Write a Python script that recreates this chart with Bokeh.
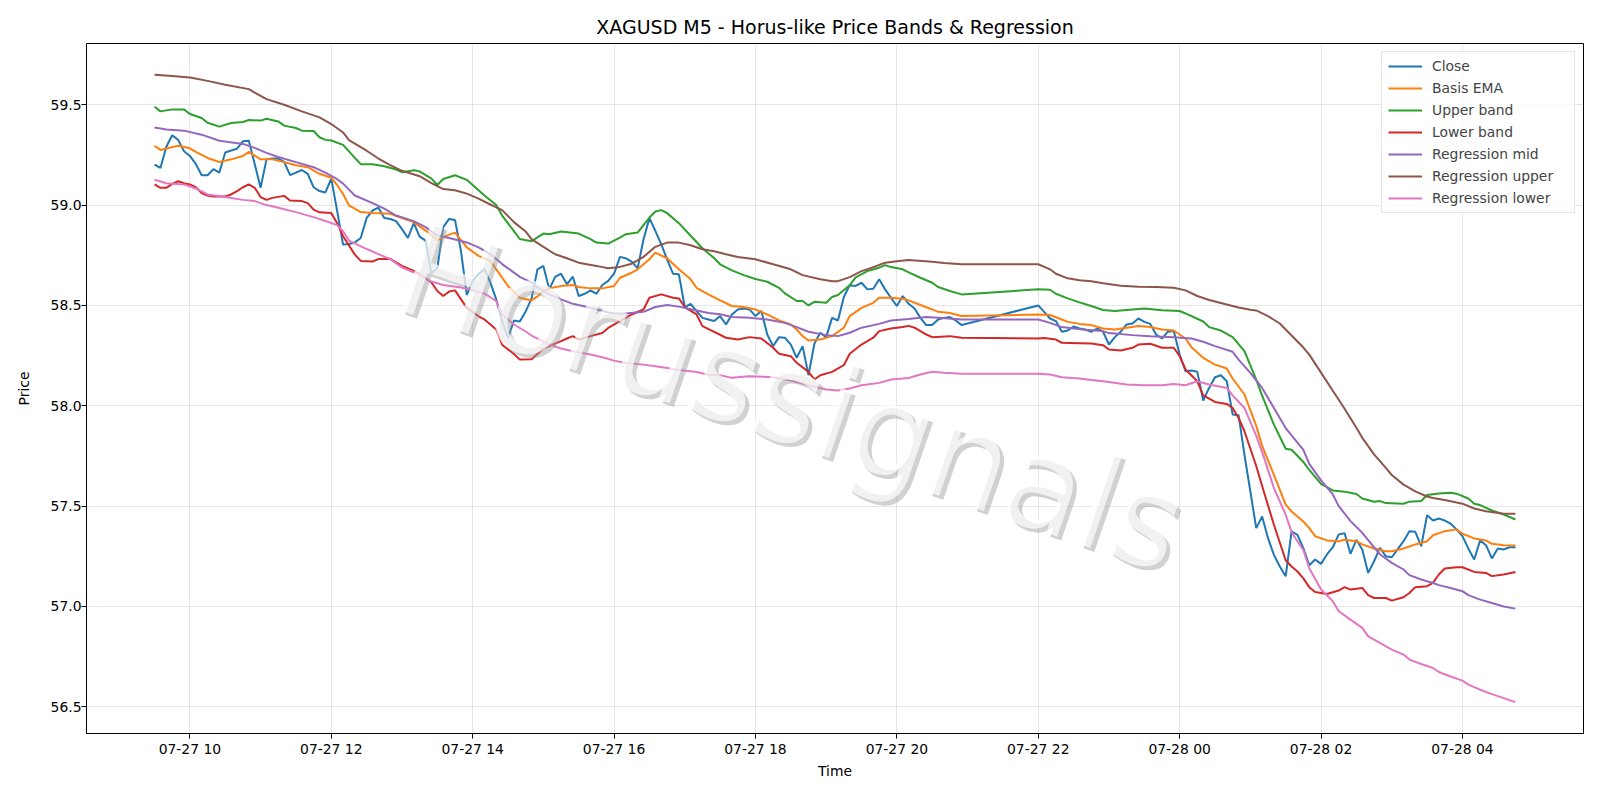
import pandas as pd
from bokeh.plotting import figure
from bokeh.models import (Range1d, FixedTicker, DatetimeTickFormatter, NumeralTickFormatter,
                          Legend, LegendItem, Label)
from bokeh.embed import file_html
from bokeh.resources import INLINE

TITLE = "XAGUSD M5 - Horus-like Price Bands & Regression"
WATERMARK = "Horussignals"
x_tick_labels = ["07-27 10", "07-27 12", "07-27 14", "07-27 16", "07-27 18",
                 "07-27 20", "07-27 22", "07-28 00", "07-28 02", "07-28 04"]
y_ticks = [56.5, 57.0, 57.5, 58.0, 58.5, 59.0, 59.5]

close_t = ["09:30","09:35","09:40","09:45","09:50","09:55","10:00","10:05","10:10","10:15","10:20","10:25",
           "10:30","10:35","10:40","10:45","10:50","10:55","11:00","11:05","11:10","11:15","11:20","11:25",
           "11:30","11:35","11:40","11:45","11:50","11:55","12:00","12:05","12:10","12:15","12:20","12:25",
           "12:30","12:35","12:40","12:45","12:50","12:55","13:00","13:05","13:10","13:15","13:20","13:25",
           "13:30","13:35","13:40","13:45","13:50","13:55","14:00","14:05","14:10","14:15","14:20","14:25",
           "14:30","14:35","14:40","14:45","14:50","14:55","15:00","15:05","15:10","15:15","15:20","15:25",
           "15:30","15:35","15:40","15:45","15:50","15:55","16:00","16:05","16:10","16:15","16:20","16:25",
           "16:30","16:35","16:40","16:45","16:50","16:55","17:00","17:05","17:10","17:15","17:20","17:25",
           "17:30","17:35","17:40","17:45","17:50","17:55","18:00","18:05","18:10","18:15","18:20","18:25",
           "18:30","18:35","18:40","18:45","18:50","18:55","19:00","19:05","19:10","19:15","19:20","19:25",
           "19:30","19:35","19:40","19:45","19:50","19:55","20:00","20:05","20:10","20:15","20:20","20:25",
           "20:30","20:35","20:40","20:45","20:50","20:55",
           "22:00","22:05","22:10","22:15","22:20","22:25","22:30","22:35","22:40","22:45","22:50","22:55",
           "23:00","23:05","23:10","23:15","23:20","23:25","23:30","23:35","23:40","23:45","23:50","23:55",
           "00:00","00:05","00:10","00:15","00:20","00:25","00:30","00:35","00:40","00:45","00:50","00:55",
           "01:00","01:05","01:10","01:15","01:20","01:25","01:30","01:35","01:40","01:45","01:50","01:55",
           "02:00","02:05","02:10","02:15","02:20","02:25","02:30","02:35","02:40","02:45","02:50","02:55",
           "03:00","03:05","03:10","03:15","03:20","03:25","03:30","03:35","03:40","03:45","03:50","03:55",
           "04:00","04:05","04:10","04:15","04:20","04:25","04:30","04:35","04:40","04:45"]
close_v = [59.202,59.185,59.291,59.348,59.325,59.268,59.245,59.205,59.149,59.149,59.179,59.162,
           59.262,59.272,59.281,59.318,59.321,59.205,59.086,59.228,59.232,59.232,59.215,59.149,
           59.162,59.175,59.156,59.089,59.070,59.063,59.132,58.970,58.803,58.806,58.814,58.836,
           58.936,58.973,58.987,58.936,58.931,58.920,58.880,58.836,58.910,58.843,58.823,58.659,
           58.686,58.890,58.931,58.926,58.773,58.552,58.622,58.656,58.682,58.614,58.530,58.421,
           58.338,58.425,58.420,58.470,58.535,58.680,58.697,58.580,58.642,58.658,58.605,58.643,
           58.547,58.558,58.575,58.558,58.602,58.622,58.658,58.742,58.735,58.718,58.685,58.830,
           58.935,58.872,58.805,58.730,58.658,58.655,58.492,58.508,58.472,58.438,58.430,58.422,
           58.447,58.405,58.455,58.480,58.485,58.480,58.447,58.472,58.355,58.297,58.342,58.339,
           58.305,58.239,58.297,58.152,58.309,58.364,58.342,58.438,58.425,58.542,58.601,58.597,
           58.613,58.580,58.583,58.630,58.580,58.538,58.497,58.547,58.508,58.485,58.438,58.402,
           58.402,58.430,58.438,58.442,58.425,58.402,
           58.500,58.468,58.435,58.422,58.369,58.375,58.395,58.385,58.380,58.368,58.385,58.369,
           58.305,58.342,58.369,58.405,58.410,58.435,58.418,58.408,58.355,58.335,58.369,58.372,
           58.255,58.172,58.176,58.169,58.026,58.089,58.142,58.152,58.122,57.956,57.953,57.756,
           57.573,57.390,57.448,57.340,57.257,57.199,57.150,57.374,57.357,57.290,57.205,57.234,
           57.212,57.259,57.295,57.359,57.365,57.262,57.332,57.284,57.167,57.225,57.292,57.250,
           57.245,57.284,57.325,57.375,57.372,57.300,57.455,57.428,57.438,57.428,57.412,57.384,
           57.350,57.289,57.234,57.329,57.305,57.239,57.289,57.284,57.295,57.295]

basis_t = ["09:30","09:35","09:40","09:50","10:00","10:05","10:15","10:25","10:35","10:45","10:50","11:00",
           "11:10","11:20","11:30","11:40","11:50","12:00","12:05","12:10","12:15","12:25","12:35","12:50",
           "13:00","13:10","13:20","13:30","13:40","13:45","13:55","14:05","14:15","14:20","14:30","14:40",
           "14:50","14:55","15:00","15:05","15:15","15:25","15:30","15:40","15:50","16:00","16:05","16:15",
           "16:20","16:30","16:35","16:45","16:55","17:05","17:10","17:20","17:30","17:40","17:50","18:00",
           "18:10","18:20","18:30","18:35","18:40","18:45","18:55","19:05","19:15","19:20","19:30","19:40",
           "19:45","19:55","20:05","20:10","20:20","20:30","20:35","20:45","20:55","22:00","22:10","22:20",
           "22:25","22:35","22:45","22:55","23:05","23:15","23:25","23:35","23:45","23:55","00:05","00:10",
           "00:20","00:30","00:40","00:45","00:55","01:05","01:10","01:20","01:30","01:35","01:45","01:50",
           "01:55","02:05","02:15","02:20","02:30","02:35","02:45","02:55","03:00","03:10","03:20","03:30",
           "03:35","03:45","03:55","04:00","04:10","04:20","04:25","04:35","04:45"]
basis_v = [59.295,59.275,59.282,59.296,59.283,59.265,59.235,59.215,59.228,59.245,59.265,59.228,
           59.228,59.214,59.199,59.189,59.156,59.136,59.100,59.055,58.998,58.965,58.960,58.957,
           58.936,58.915,58.873,58.826,58.853,58.863,58.789,58.747,58.722,58.680,58.597,58.538,
           58.525,58.545,58.572,58.585,58.597,58.602,58.592,58.585,58.585,58.597,58.638,58.663,
           58.680,58.730,58.763,58.735,58.680,58.630,58.588,58.555,58.525,58.497,58.492,58.480,
           58.455,58.425,58.405,58.380,58.347,58.325,58.330,58.347,58.389,58.447,58.488,58.513,
           58.538,58.538,58.533,58.525,58.502,58.480,58.468,58.462,58.447,58.455,58.452,58.430,
           58.418,58.408,58.402,58.385,58.380,58.389,58.397,58.392,58.380,58.375,58.335,58.292,
           58.239,58.205,58.186,58.136,58.056,57.900,57.800,57.656,57.507,57.473,57.423,57.390,
           57.350,57.329,57.325,57.332,57.325,57.309,57.289,57.275,57.275,57.289,57.309,57.325,
           57.355,57.375,57.384,57.362,57.339,57.329,57.312,57.305,57.304]

upper_t = ["09:30","09:35","09:45","09:55","10:00","10:10","10:15","10:25","10:35","10:45","10:50","11:00",
           "11:05","11:15","11:20","11:30","11:35","11:45","11:50","11:55","12:00","12:10","12:20","12:25",
           "12:35","12:45","12:55","13:00","13:10","13:15","13:25","13:30","13:35","13:45","13:55","14:05",
           "14:10","14:20","14:25","14:35","14:40","14:50","15:00","15:05","15:15","15:30","15:40","15:45",
           "15:55","16:05","16:10","16:20","16:30","16:35","16:40","16:45","16:55","17:05","17:15","17:25",
           "17:30","17:40","17:50","18:00","18:10","18:20","18:25","18:35","18:40","18:45","18:50","19:00",
           "19:05","19:10","19:20","19:25","19:35","19:45","19:50","19:55","20:05","20:10","20:20","20:30",
           "20:35","20:45","20:55","22:00","22:10","22:15","22:25","22:35","22:45","22:55","23:05","23:20",
           "23:30","23:45","00:00","00:05","00:20","00:25","00:35","00:45","00:55","01:05","01:10","01:20",
           "01:30","01:35","01:45","01:50","02:00","02:10","02:20","02:30","02:35","02:45","02:50","02:55",
           "03:10","03:15","03:25","03:30","03:40","03:50","03:55","04:05","04:10","04:15","04:25","04:35",
           "04:45"]
upper_v = [59.490,59.467,59.477,59.477,59.454,59.434,59.410,59.391,59.409,59.414,59.424,59.421,
           59.430,59.417,59.396,59.384,59.371,59.369,59.338,59.325,59.322,59.300,59.235,59.204,
           59.204,59.194,59.177,59.164,59.174,59.168,59.132,59.100,59.130,59.149,59.126,59.074,
           59.048,59.000,58.948,58.870,58.831,58.820,58.858,58.855,58.868,58.858,58.830,58.813,
           58.808,58.838,58.855,58.863,58.938,58.968,58.975,58.960,58.910,58.847,58.785,58.735,
           58.705,58.675,58.651,58.632,58.618,58.588,58.560,58.522,58.522,58.500,58.518,58.513,
           58.542,58.552,58.601,58.640,58.671,58.688,58.701,58.691,58.680,58.665,58.638,58.613,
           58.592,58.572,58.555,58.580,58.578,58.558,58.535,58.515,58.497,58.477,58.472,58.480,
           58.485,58.476,58.472,58.460,58.420,58.392,58.375,58.342,58.272,58.130,58.050,57.906,
           57.786,57.781,57.720,57.680,57.611,57.578,57.572,57.560,57.538,57.522,57.525,57.515,
           57.512,57.522,57.525,57.555,57.563,57.567,57.562,57.538,57.512,57.505,57.478,57.458,
           57.433]

lower_t = ["09:30","09:35","09:40","09:45","09:50","09:55","10:00","10:05","10:10","10:15","10:20","10:30",
           "10:35","10:40","10:45","10:50","10:55","11:00","11:05","11:10","11:20","11:25","11:35","11:40",
           "11:45","11:50","12:00","12:05","12:10","12:20","12:25","12:35","12:40","12:50","13:00","13:10",
           "13:15","13:25","13:30","13:35","13:40","13:45","13:55","14:05","14:10","14:20","14:25","14:35",
           "14:40","14:50","15:00","15:05","15:15","15:20","15:25","15:30","15:40","15:50","15:55","16:05",
           "16:15","16:25","16:30","16:40","16:50","16:55","17:00","17:10","17:15","17:25","17:35","17:45",
           "17:55","18:05","18:15","18:20","18:30","18:35","18:45","18:50","18:55","19:05","19:15","19:20",
           "19:30","19:40","19:45","19:55","20:05","20:10","20:15","20:25","20:30","20:45","20:55","22:00",
           "22:05","22:15","22:20","22:35","22:45","22:55","23:00","23:10","23:20","23:25","23:35","23:45",
           "23:55","00:00","00:05","00:15","00:20","00:30","00:40","00:45","00:50","00:55","01:05","01:10",
           "01:20","01:30","01:35","01:40","01:45","01:50","01:55","02:05","02:15","02:20","02:25","02:35",
           "02:40","02:45","02:55","03:00","03:10","03:15","03:20","03:30","03:35","03:40","03:45","03:55",
           "04:00","04:10","04:20","04:25","04:35","04:45"]
lower_v = [59.103,59.086,59.086,59.106,59.119,59.109,59.103,59.089,59.060,59.048,59.043,59.043,
           59.053,59.070,59.089,59.103,59.086,59.040,59.026,59.036,59.046,59.023,59.020,59.010,
           58.977,58.964,58.960,58.910,58.845,58.753,58.722,58.719,58.731,58.732,58.697,58.672,
           58.656,58.614,58.572,58.547,58.569,58.575,58.488,58.446,58.430,58.380,58.304,58.258,
           58.230,58.232,58.285,58.297,58.322,58.335,58.347,58.330,58.347,58.363,58.388,58.422,
           58.455,58.480,58.538,58.555,58.538,58.535,58.492,58.455,58.397,58.368,58.339,58.330,
           58.342,58.335,58.289,58.259,58.247,58.214,58.169,58.131,58.152,58.169,58.202,58.259,
           58.305,58.339,58.372,58.385,58.392,58.398,58.389,58.355,58.342,58.347,58.339,58.335,
           58.338,58.330,58.314,58.312,58.310,58.302,58.280,58.275,58.289,58.305,58.309,58.289,
           58.289,58.247,58.181,58.122,58.052,58.019,58.009,57.989,57.939,57.873,57.700,57.600,
           57.407,57.230,57.199,57.174,57.140,57.096,57.072,57.062,57.079,57.096,57.084,57.092,
           57.056,57.042,57.042,57.029,57.046,57.067,57.096,57.101,57.117,57.159,57.189,57.195,
           57.195,57.172,57.167,57.151,57.159,57.172]

reg_mid_t = ["09:30","09:40","09:55","10:10","10:25","10:45","10:55","11:05","11:15","11:30","11:45","11:55",
             "12:05","12:10","12:20","12:35","12:45","12:55","13:10","13:20","13:30","13:40","13:55","14:05",
             "14:15","14:25","14:40","14:50","14:55","15:05","15:15","15:25","15:40","15:50","16:00","16:10",
             "16:25","16:35","16:45","16:55","17:10","17:20","17:30","17:40","17:55","18:10","18:25","18:35",
             "18:45","19:00","19:10","19:20","19:30","19:45","19:55","20:10","20:25","20:35","20:55","22:00",
             "22:10","22:20","22:30","22:40","22:55","23:00","23:20","23:35","23:55","00:10","00:20","00:30",
             "00:45","00:50","01:00","01:10","01:20","01:30","01:45","01:50","02:00","02:10","02:15","02:25",
             "02:35","02:40","02:50","03:00","03:10","03:15","03:25","03:35","03:40","03:50","04:00","04:05",
             "04:15","04:25","04:35","04:45"]
reg_mid_v = [59.387,59.377,59.371,59.351,59.321,59.305,59.285,59.260,59.240,59.214,59.189,59.162,
             59.129,59.107,59.048,59.010,58.982,58.948,58.920,58.890,58.848,58.836,58.814,58.789,
             58.756,58.706,58.642,58.614,58.590,58.555,58.530,58.508,58.488,58.472,58.460,58.460,
             58.468,58.492,58.502,58.494,58.475,58.462,58.456,58.442,58.438,58.430,58.413,58.392,
             58.369,58.352,58.347,58.364,58.389,58.408,58.425,58.432,58.442,58.438,58.430,58.430,
             58.413,58.392,58.385,58.379,58.372,58.362,58.352,58.347,58.342,58.335,58.319,58.297,
             58.269,58.230,58.164,58.089,57.989,57.889,57.780,57.710,57.628,57.558,57.500,57.425,
             57.367,57.330,57.260,57.217,57.184,57.156,57.134,57.117,57.106,57.092,57.076,57.056,
             57.034,57.017,57.000,56.989]

reg_up_t = ["09:30","09:45","10:00","10:15","10:30","10:50","10:55","11:05","11:20","11:35","11:50","12:00",
            "12:10","12:15","12:30","12:40","12:50","13:00","13:15","13:25","13:35","13:45","13:55","14:05",
            "14:15","14:25","14:35","14:45","14:50","15:00","15:10","15:20","15:30","15:45","15:55","16:05",
            "16:15","16:25","16:35","16:45","16:55","17:05","17:15","17:25","17:35","17:45","18:00","18:15",
            "18:30","18:40","18:55","19:05","19:10","19:20","19:30","19:40","19:50","20:00","20:10","20:30",
            "20:40","20:55","22:00","22:10","22:15","22:25","22:35","22:45","22:55","23:10","23:25","23:40",
            "23:55","00:05","00:15","00:25","00:40","00:50","01:00","01:05","01:15","01:25","01:35","01:45",
            "01:50","02:00","02:10","02:20","02:30","02:35","02:45","02:55","03:00","03:10","03:20","03:30",
            "03:35","03:45","04:00","04:10","04:20","04:35","04:45"]
reg_up_v = [59.649,59.643,59.636,59.619,59.600,59.578,59.560,59.528,59.500,59.467,59.437,59.404,
            59.362,59.324,59.271,59.232,59.199,59.171,59.144,59.110,59.080,59.074,59.057,59.032,
            59.003,58.975,58.915,58.868,58.830,58.792,58.755,58.735,58.713,58.697,58.685,58.692,
            58.708,58.742,58.792,58.813,58.813,58.800,58.780,58.770,58.755,58.741,58.730,58.705,
            58.680,58.651,58.630,58.621,58.621,58.641,58.671,58.690,58.713,58.720,58.726,58.718,
            58.711,58.705,58.705,58.680,58.658,58.635,58.626,58.620,58.611,58.598,58.593,58.592,
            58.588,58.575,58.547,58.527,58.505,58.490,58.478,58.475,58.447,58.410,58.350,58.290,
            58.255,58.165,58.075,57.985,57.890,57.840,57.758,57.690,57.655,57.607,57.573,57.548,
            57.540,57.530,57.512,57.488,57.474,57.462,57.462]

reg_lo_t = ["09:30","09:40","09:55","10:05","10:15","10:30","10:45","10:55","11:05","11:15","11:30","11:45",
            "11:55","12:05","12:10","12:15","12:30","12:40","12:50","13:00","13:15","13:25","13:35","13:50",
            "14:00","14:10","14:20","14:25","14:35","14:45","14:50","15:05","15:15","15:25","15:40","15:50",
            "16:00","16:10","16:25","16:35","16:45","16:55","17:10","17:20","17:30","17:40","17:55","18:15",
            "18:30","18:45","19:00","19:10","19:20","19:30","19:45","19:55","20:10","20:20","20:30","20:40",
            "20:55","22:00","22:10","22:20","22:35","22:45","22:55","23:15","23:30","23:45","23:55","00:05",
            "00:15","00:25","00:40","00:45","00:55","01:05","01:10","01:20","01:30","01:35","01:45","01:50",
            "02:00","02:10","02:15","02:25","02:35","02:40","02:50","03:00","03:10","03:15","03:25","03:35",
            "03:40","03:50","04:00","04:05","04:15","04:25","04:35","04:45"]
reg_lo_v = [59.126,59.109,59.103,59.083,59.053,59.040,59.026,59.020,59.000,58.987,58.965,58.940,
            58.921,58.900,58.870,58.823,58.781,58.756,58.731,58.689,58.652,58.619,58.602,58.589,
            58.575,58.559,58.522,58.455,58.405,58.370,58.350,58.305,58.285,58.272,58.255,58.242,
            58.225,58.213,58.205,58.197,58.188,58.178,58.168,58.155,58.152,58.139,58.147,58.142,
            58.126,58.102,58.081,58.076,58.086,58.102,58.114,58.131,58.138,58.156,58.169,58.164,
            58.159,58.159,58.156,58.142,58.136,58.128,58.122,58.106,58.102,58.102,58.109,58.102,
            58.122,58.106,58.089,58.052,57.989,57.850,57.770,57.590,57.457,57.370,57.280,57.190,
            57.084,57.026,56.976,56.934,56.893,56.851,56.818,56.785,56.760,56.735,56.713,56.693,
            56.673,56.651,56.630,56.610,56.585,56.563,56.543,56.523]


def to_ts(hhmm_list):
    out = []
    for s in hhmm_list:
        day = "2025-07-28" if int(s[:2]) < 9 else "2025-07-27"
        out.append(pd.Timestamp(f"{day} {s}"))
    return out


series = [
    ("Close", close_t, close_v, "#1f77b4"),
    ("Basis EMA", basis_t, basis_v, "#ff7f0e"),
    ("Upper band", upper_t, upper_v, "#2ca02c"),
    ("Lower band", lower_t, lower_v, "#d62728"),
    ("Regression mid", reg_mid_t, reg_mid_v, "#9467bd"),
    ("Regression upper", reg_up_t, reg_up_v, "#8c564b"),
    ("Regression lower", reg_lo_t, reg_lo_v, "#e377c2"),
]

all_t = [t for s in series for t in to_ts(s[1])]
all_v = [v for s in series for v in s[2]]
tmin, tmax = min(all_t), max(all_t)
vmin, vmax = min(all_v), max(all_v)
tpad = (tmax - tmin) * 0.05
vpad = (vmax - vmin) * 0.05

FONT = "DejaVu Sans"
p = figure(width=1600, height=800, x_axis_type="datetime",
           x_range=Range1d(tmin - tpad, tmax + tpad),
           y_range=Range1d(vmin - vpad, vmax + vpad),
           output_backend="svg", toolbar_location=None,
           min_border_left=86, min_border_right=17, min_border_top=43, min_border_bottom=67)

p.title.text = TITLE
p.title.align = "center"
p.title.text_font = FONT
p.title.text_font_size = "19px"
p.title.text_font_style = "normal"
p.title.text_color = "black"
p.title.standoff = 11

p.outline_line_color = "black"
p.outline_line_width = 1
p.outline_line_alpha = 1

tick_pos = [pd.Timestamp("2025-" + lab + ":00") for lab in x_tick_labels]
p.xaxis.ticker = FixedTicker(ticks=[t.value / 1e6 for t in tick_pos])
p.xaxis.formatter = DatetimeTickFormatter(hours="%m-%d %H", days="%m-%d %H", hourmin="%m-%d %H",
                                          minutes="%m-%d %H", months="%m-%d %H")
p.yaxis.ticker = FixedTicker(ticks=y_ticks)
p.yaxis.formatter = NumeralTickFormatter(format="0.0")

for ax in (p.xaxis[0], p.yaxis[0]):
    ax.axis_line_color = "black"
    ax.major_tick_line_color = "black"
    ax.major_tick_out = 5
    ax.major_tick_in = 0
    ax.minor_tick_line_color = None
    ax.major_label_text_font = FONT
    ax.major_label_text_font_size = "13.9px"
    ax.major_label_text_color = "black"
    ax.axis_label_text_font = FONT
    ax.axis_label_text_font_size = "13.9px"
    ax.axis_label_text_font_style = "normal"
    ax.axis_label_text_color = "black"

p.xaxis.major_label_standoff = 2
p.yaxis.major_label_standoff = 0
p.xaxis.axis_label = "Time"
p.yaxis.axis_label = "Price"
p.xaxis.axis_label_standoff = 3
p.yaxis.axis_label_standoff = 16

p.grid.grid_line_color = "#b0b0b0"
p.grid.grid_line_alpha = 0.3
p.grid.grid_line_width = 1

items = []
for name, tt, vv, col in series:
    r = p.line(to_ts(tt), vv, line_color=col, line_width=2)
    items.append(LegendItem(label=name, renderers=[r]))

wm_x = tmin + (tmax - tmin) * 0.468
wm_y = vmin + (vmax - vmin) * 0.485
shadow = Label(x=wm_x, y=wm_y, text=WATERMARK, angle=-19, angle_units="deg",
               text_align="center", text_baseline="middle", text_font=FONT,
               text_font_size="128px", text_color="#9a9a9a", text_alpha=0.45,
               x_offset=4, y_offset=-4)
front = Label(x=wm_x, y=wm_y, text=WATERMARK, angle=-19, angle_units="deg",
              text_align="center", text_baseline="middle", text_font=FONT,
              text_font_size="128px", text_color="white", text_alpha=0.7)
p.add_layout(shadow)
p.add_layout(front)

legend = Legend(items=items, location="top_right")
legend.margin = 8
legend.padding = 6
legend.spacing = 6
legend.label_height = 16
legend.glyph_height = 16
legend.glyph_width = 34
legend.label_standoff = 10
legend.label_width = 136
legend.label_text_font = FONT
legend.label_text_font_size = "13.9px"
legend.border_line_color = "#cccccc"
legend.border_line_width = 1
legend.background_fill_color = "white"
legend.background_fill_alpha = 0.8
p.add_layout(legend)

open("out.html", "w").write(file_html(p, INLINE))
